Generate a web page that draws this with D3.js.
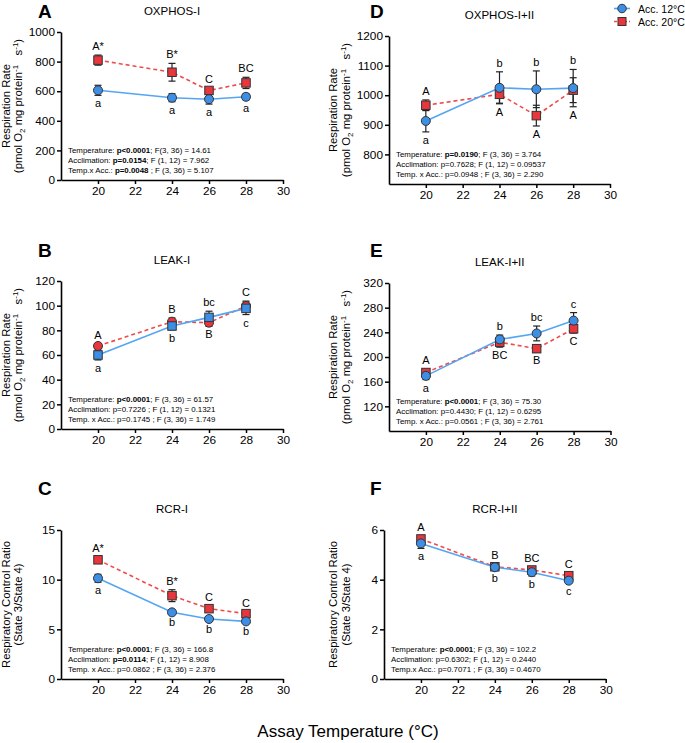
<!DOCTYPE html>
<html><head><meta charset="utf-8">
<script src="https://cdn.jsdelivr.net/npm/d3@7"></script>
<style>
body{margin:0;background:#fff}
svg{display:block}
text{font-family:"Liberation Sans",Arial,Helvetica,sans-serif;fill:#000}
</style>
</head><body>
<svg id="chart" width="685" height="743"></svg>
<script>
// ---------- DATA ----------
const temps = [20, 24, 26, 28];
const xTicks = [20, 22, 24, 26, 28, 30];
const seriesNames = ["Acc. 12°C", "Acc. 20°C"];
const xAxisTitle = "Assay Temperature (°C)";

// A: OXPHOS-I
const oxI_12 = [606, 556, 546, 562];
const oxI_12_err = [34, 27, 33, 20];
const oxI_20 = [810, 728, 605, 656];
const oxI_20_err = [34, 60, 14, 38];
const oxI_lab12 = ["a", "a", "a", "a"];
const oxI_lab20 = ["A*", "B*", "C", "BC"];
const oxI_ticks = [0, 200, 400, 600, 800, 1000];

// D: OXPHOS-I+II
const oxII_12 = [913, 1025, 1020, 1024];
const oxII_12_err = [37, 54, 62, 63];
const oxII_20 = [966, 1003, 931, 1017];
const oxII_20_err = [18, 30, 35, 42];
const oxII_lab12 = ["a", "b", "b", "b"];
const oxII_lab20 = ["A", "A", "A", "A"];
const oxII_ticks = [800, 900, 1000, 1100, 1200];

// B: LEAK-I
const lkI_12 = [60, 83.5, 90.5, 97.8];
const lkI_12_err = [4, 3, 5, 5];
const lkI_20 = [67.3, 87, 86.2, 99.7];
const lkI_20_err = [2, 3, 3, 4];
const lkI_lab12 = ["a", "b", "bc", "c"];
const lkI_lab20 = ["A", "B", "B", "C"];
const lkI_ticks = [0, 20, 40, 60, 80, 100, 120];

// E: LEAK-I+II
const lkII_12 = [169.4, 228.5, 238.2, 259];
const lkII_12_err = [6, 7, 12, 13];
const lkII_20 = [174.8, 224, 213.5, 245.8];
const lkII_20_err = [5, 8, 6, 7];
const lkII_lab12 = ["a", "b", "bc", "c"];
const lkII_lab20 = ["A", "BC", "B", "C"];
const lkII_ticks = [120, 160, 200, 240, 280, 320];

// C: RCR-I
const rcrI_12 = [10.14, 6.71, 6.04, 5.8];
const rcrI_12_err = [0.4, 0.2, 0.2, 0.2];
const rcrI_20 = [12.0, 8.39, 7.08, 6.58];
const rcrI_20_err = [0.3, 0.6, 0.3, 0.2];
const rcrI_lab12 = ["a", "b", "b", "b"];
const rcrI_lab20 = ["A*", "B*", "C", "C"];
const rcrI_ticks = [0, 5, 10, 15];

// F: RCR-I+II
const rcrII_12 = [5.46, 4.5, 4.3, 3.96];
const rcrII_12_err = [0.2, 0.1, 0.15, 0.1];
const rcrII_20 = [5.64, 4.52, 4.39, 4.16];
const rcrII_20_err = [0.1, 0.1, 0.1, 0.1];
const rcrII_lab12 = ["a", "b", "b", "c"];
const rcrII_lab20 = ["A", "B", "BC", "C"];
const rcrII_ticks = [0, 2, 4, 6];

// statistics text: [text, bold]
const statsA = [
  [["Temperature: ", 0], ["p<0.0001", 1], ["; F(3, 36) = 14.61", 0]],
  [["Acclimation: ", 0], ["p=0.0154", 1], ["; F (1, 12) = 7.962", 0]],
  [["Temp.x Acc.: ", 0], ["p=0.0048", 1], [" ; F (3, 36) = 5.107", 0]]
];
const statsD = [
  [["Temperature: ", 0], ["p=0.0190", 1], ["; F (3, 36) = 3.764", 0]],
  [["Acclimation: p=0.7628; F (1, 12) = 0.09537", 0]],
  [["Temp. x Acc.: p=0.0948 ; F (3, 36) = 2.290", 0]]
];
const statsB = [
  [["Temperature: ", 0], ["p<0.0001", 1], ["; F (3, 36) = 61.57", 0]],
  [["Acclimation: p=0.7226 ; F (1, 12) = 0.1321", 0]],
  [["Temp. x Acc.: p=0.1745 ; F (3, 36) = 1.749", 0]]
];
const statsE = [
  [["Temperature: ", 0], ["p<0.0001", 1], ["; F (3, 36) = 75.30", 0]],
  [["Acclimation: p=0.4430; F (1, 12) = 0.6295", 0]],
  [["Temp. x Acc.: p=0.0561 ; F (3, 36) = 2.761", 0]]
];
const statsC = [
  [["Temperature: ", 0], ["p<0.0001", 1], ["; F (3, 36) = 166.8", 0]],
  [["Acclimation: ", 0], ["p=0.0114", 1], ["; F (1, 12) = 8.908", 0]],
  [["Temp. x Acc.: p=0.0862 ; F (3, 36) = 2.376", 0]]
];
const statsF = [
  [["Temperature: ", 0], ["p<0.0001", 1], ["; F (3, 36) = 102.2", 0]],
  [["Acclimation: p=0.6302; F (1, 12) = 0.2440", 0]],
  [["Temp.x Acc.: p=0.7071 ; F (3, 36) = 0.4670", 0]]
];

const rateTitle = "Respiration Rate";
const rcrTitle = "Respiratory Control Ratio";
const rcrSub = "(State 3/State 4)";

// ---------- LAYOUT / STYLE ----------
const BLUE = "#3d8fe6", BLUE_LINE = "#55a5f2";
const RED = "#e9363c", RED_LINE = "#ef4b4b";

const panels = [
  {id:"A", title:"OXPHOS-I", dom:[0,1000], ticks:oxI_ticks, v12:oxI_12, e12:oxI_12_err, v20:oxI_20, e20:oxI_20_err, l12:oxI_lab12, l20:oxI_lab20, stats:statsA, yt:"rate", swap:false,
   L:{left:61, right:283, top:32, bottom:180, col:0, ly:18}},
  {id:"B", title:"LEAK-I", dom:[0,120], ticks:lkI_ticks, v12:lkI_12, e12:lkI_12_err, v20:lkI_20, e20:lkI_20_err, l12:lkI_lab12, l20:lkI_lab20, stats:statsB, yt:"rate", swap:true,
   L:{left:61, right:283, top:281, bottom:429, col:0, ly:257}},
  {id:"C", title:"RCR-I", dom:[0,15], ticks:rcrI_ticks, v12:rcrI_12, e12:rcrI_12_err, v20:rcrI_20, e20:rcrI_20_err, l12:rcrI_lab12, l20:rcrI_lab20, stats:statsC, yt:"rcr", swap:false,
   L:{left:61, right:283, top:530, bottom:679, col:0, ly:495}},
  {id:"D", title:"OXPHOS-I+II", dom:[700,1200], ticks:oxII_ticks, v12:oxII_12, e12:oxII_12_err, v20:oxII_20, e20:oxII_20_err, l12:oxII_lab12, l20:oxII_lab20, stats:statsD, yt:"rate", swap:false,
   L:{left:389, right:610, top:36, bottom:184, col:1, ly:18}},
  {id:"E", title:"LEAK-I+II", dom:[80,320], ticks:lkII_ticks, v12:lkII_12, e12:lkII_12_err, v20:lkII_20, e20:lkII_20_err, l12:lkII_lab12, l20:lkII_lab20, stats:statsE, yt:"rate", swap:false,
   L:{left:389, right:610.5, top:283, bottom:431, col:1, ly:257}},
  {id:"F", title:"RCR-I+II", dom:[0,6], ticks:rcrII_ticks, v12:rcrII_12, e12:rcrII_12_err, v20:rcrII_20, e20:rcrII_20_err, l12:rcrII_lab12, l20:rcrII_lab20, stats:statsF, yt:"rcr", swap:false,
   L:{left:384, right:605.7, top:530, bottom:679, col:1, ly:495}}
];
const colLetterX = [38, 370];
const colTitleX = [[10, 22], [337, 350]];

const svg = d3.select("#chart");

function drawMarker(g, shape, cx, cy, fill, size) {
  if (shape === "circle") {
    g.append("circle").attr("cx", cx).attr("cy", cy).attr("r", size/2)
      .attr("fill", fill).attr("stroke", "#333").attr("stroke-width", 1);
  } else {
    g.append("rect").attr("x", cx - size/2).attr("y", cy - size/2)
      .attr("width", size).attr("height", size)
      .attr("fill", fill).attr("stroke", "#333").attr("stroke-width", 1);
  }
}

panels.forEach(p => {
  const L = p.L;
  const g = svg.append("g");
  const x = d3.scaleLinear().domain([18, 30]).range([L.left, L.right]);
  const y = d3.scaleLinear().domain(p.dom).range([L.bottom, L.top]);

  // axes
  const ax = g.append("g").attr("transform", `translate(0,${L.bottom})`)
    .call(d3.axisBottom(x).tickValues(xTicks).tickFormat(d => String(d))
      .tickSize(4).tickSizeOuter(0).tickPadding(3));
  const ay = g.append("g").attr("transform", `translate(${L.left},0)`)
    .call(d3.axisLeft(y).tickValues(p.ticks).tickFormat(d => String(d))
      .tickSize(4).tickSizeOuter(0).tickPadding(2));
  [ax, ay].forEach(a => {
    a.select(".domain").attr("stroke", "#000").attr("stroke-width", 1.6);
    a.selectAll(".tick line").attr("stroke", "#000").attr("stroke-width", 1.5);
    a.selectAll(".tick text").style("font-size", "11.8px").attr("fill", "#000")
      .style("font-family", '"Liberation Sans",Arial,sans-serif');
  });

  // panel letter & title
  g.append("text").attr("x", colLetterX[L.col]).attr("y", L.ly)
    .style("font-size", "19px").style("font-weight", "bold").text(p.id);
  g.append("text").attr("x", (L.left + L.right) / 2).attr("y", L.top - 17)
    .attr("text-anchor", "middle").style("font-size", "11.5px").text(p.title);

  // y title
  const cy = (L.top + L.bottom) / 2;
  const tx = colTitleX[L.col];
  const t1 = g.append("text").attr("transform", `translate(${tx[0]},${cy}) rotate(-90)`)
    .attr("text-anchor", "middle").style("font-size", "11.3px");
  const t2 = g.append("text").attr("transform", `translate(${tx[1]},${cy}) rotate(-90)`)
    .attr("text-anchor", "middle").style("font-size", "11.3px");
  if (p.yt === "rate") {
    t1.text(rateTitle);
    t2.append("tspan").text("(pmol O");
    t2.append("tspan").attr("dy", 3).style("font-size", "8px").text("2");
    t2.append("tspan").attr("dy", -3).text(" mg protein");
    t2.append("tspan").attr("dy", -4).style("font-size", "8px").text("-1");
    t2.append("tspan").attr("dy", 4).text("\u00a0\u00a0 s");
    t2.append("tspan").attr("dy", -4).style("font-size", "8px").text("-1");
    t2.append("tspan").attr("dy", 4).text(")");
  } else {
    t1.text(rcrTitle);
    t2.text(rcrSub);
  }

  const pts12 = temps.map((t, i) => ({t, v: p.v12[i], e: p.e12[i]}));
  const pts20 = temps.map((t, i) => ({t, v: p.v20[i], e: p.e20[i]}));
  const line = d3.line().x(d => x(d.t)).y(d => y(d.v));

  g.append("path").datum(pts20).attr("d", line).attr("fill", "none")
    .attr("stroke", RED_LINE).attr("stroke-width", 1.6).attr("stroke-dasharray", "4,3");
  g.append("path").datum(pts12).attr("d", line).attr("fill", "none")
    .attr("stroke", BLUE_LINE).attr("stroke-width", 1.6);

  // error bars
  [pts20, pts12].forEach(pts => {
    pts.forEach(d => {
      const xx = x(d.t), y1 = y(d.v + d.e), y0 = y(d.v - d.e);
      g.append("line").attr("x1", xx).attr("x2", xx).attr("y1", y1).attr("y2", y0)
        .attr("stroke", "#222").attr("stroke-width", 1.2);
      [y1, y0].forEach(yy => g.append("line").attr("x1", xx - 3.5).attr("x2", xx + 3.5)
        .attr("y1", yy).attr("y2", yy).attr("stroke", "#222").attr("stroke-width", 1.2));
    });
  });

  // markers
  const shape12 = p.swap ? "rect" : "circle";
  const shape20 = p.swap ? "circle" : "rect";
  pts20.forEach(d => drawMarker(g, shape20, x(d.t), y(d.v), RED, shape20 === "circle" ? 9 : 8.5));
  pts12.forEach(d => drawMarker(g, shape12, x(d.t), y(d.v), BLUE, shape12 === "circle" ? 9 : 8.5));

  // letter labels
  temps.forEach((t, i) => {
    const hi = Math.max(p.v12[i] + p.e12[i], p.v20[i] + p.e20[i]);
    const lo = Math.min(p.v12[i] - p.e12[i], p.v20[i] - p.e20[i]);
    const upper = p.v20[i] >= p.v12[i] ? p.l20[i] : p.l12[i];
    const lower = p.v20[i] >= p.v12[i] ? p.l12[i] : p.l20[i];
    g.append("text").attr("x", x(t)).attr("y", y(hi) - 5).attr("text-anchor", "middle")
      .style("font-size", "11px").text(upper);
    g.append("text").attr("x", x(t)).attr("y", y(lo) + 12).attr("text-anchor", "middle")
      .style("font-size", "11px").text(lower);
  });

  // stats
  p.stats.forEach((segs, k) => {
    const t = g.append("text").attr("x", L.left + 7).attr("y", L.bottom - 27 + k * 10)
      .style("font-size", "7.9px");
    segs.forEach(s => t.append("tspan").style("font-weight", s[1] ? "bold" : "normal").text(s[0]));
  });
});

// legend
const lg = svg.append("g");
lg.append("line").attr("x1", 614).attr("x2", 630).attr("y1", 8.5).attr("y2", 8.5)
  .attr("stroke", BLUE_LINE).attr("stroke-width", 1.6);
drawMarker(lg, "circle", 622, 8.5, BLUE, 8.5);
lg.append("text").attr("x", 638).attr("y", 12.5).style("font-size", "10.5px").text(seriesNames[0]);
lg.append("line").attr("x1", 614).attr("x2", 630).attr("y1", 21.5).attr("y2", 21.5)
  .attr("stroke", RED_LINE).attr("stroke-width", 1.6).attr("stroke-dasharray", "3,2");
drawMarker(lg, "rect", 622, 21.5, RED, 8);
lg.append("text").attr("x", 638).attr("y", 25.5).style("font-size", "10.5px").text(seriesNames[1]);

// x axis title
svg.append("text").attr("x", 348).attr("y", 737).attr("text-anchor", "middle")
  .style("font-size", "17px").text(xAxisTitle);
</script>
</body></html>
